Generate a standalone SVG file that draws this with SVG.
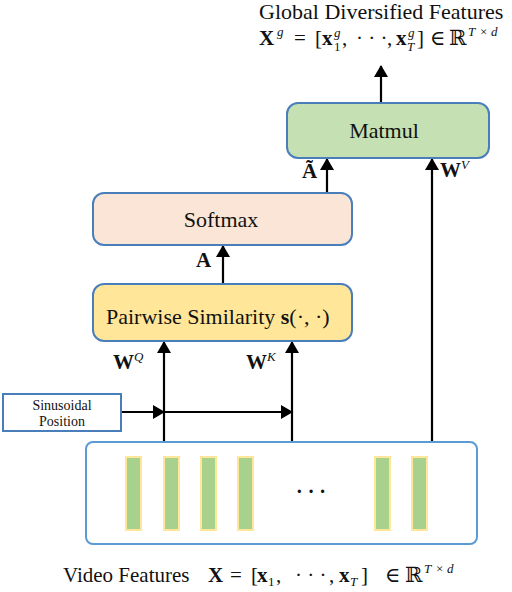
<svg xmlns="http://www.w3.org/2000/svg" width="512" height="592" viewBox="0 0 512 592">
<style>
.t{font-family:"Liberation Serif","Times New Roman",serif;fill:#111}
.m{font-family:"Liberation Serif","DejaVu Serif",serif;fill:#111;font-size:21px}
.s{font-size:13px}
.box{stroke:#4a7ebb;stroke-width:2}
.ln{stroke:#000;stroke-width:2.2;fill:none;marker-end:url(#ah)}
.bar{fill:#a9d18e;stroke:#ffe699;stroke-width:2}
.b{font-weight:bold}
.i{font-style:italic}
</style>
<defs>
<marker id="ah" viewBox="0 0 12 14" refX="11" refY="7" markerWidth="12" markerHeight="14" markerUnits="userSpaceOnUse" orient="auto">
<path d="M0,0 L12,7 L0,14 Z" fill="#000"/>
</marker>
</defs>
<g id="title">
<text class="t" x="259" y="19" font-size="22">Global Diversified Features</text>
<text class="m" y="45"><tspan class="b" x="259">X</tspan><tspan class="i s" x="277" y="36">g</tspan><tspan x="294" y="45">=</tspan><tspan x="315">[</tspan><tspan class="b" x="322">x</tspan><tspan class="i s" x="334" y="37">g</tspan></text>
<text class="m" y="45"><tspan class="s" x="334" y="51">1</tspan><tspan x="342" y="45">,</tspan><tspan x="356">· · ·</tspan><tspan x="387">,</tspan><tspan class="b" x="396">x</tspan><tspan class="i s" x="408" y="37">g</tspan></text>
<text class="m" y="45"><tspan class="i s" x="407" y="51">T</tspan><tspan x="417" y="45">]</tspan><tspan x="430">∈</tspan><tspan x="449">ℝ</tspan><tspan class="i s" x="468" y="36">T</tspan><tspan class="s" x="480">×</tspan><tspan class="i s" x="491">d</tspan></text>
</g>
<g id="connectors">
<line class="ln" x1="381" y1="102" x2="381" y2="66"/>
<line class="ln" x1="327" y1="192" x2="327" y2="159"/>
<line class="ln" x1="432" y1="442" x2="432" y2="159"/>
<line class="ln" x1="223" y1="283" x2="223" y2="246"/>
<line class="ln" x1="164" y1="442" x2="164" y2="342"/>
<line class="ln" x1="292" y1="442" x2="292" y2="342"/>
<line class="ln" x1="121" y1="412" x2="164" y2="412"/>
<line class="ln" x1="164" y1="412" x2="292" y2="412"/>
</g>
<g id="labels">
<text class="m" x="302" y="178"><tspan class="b">Ã</tspan></text>
<text class="m" x="440" y="177"><tspan class="b">W</tspan><tspan class="i s" dy="-8">V</tspan></text>
<text class="m" x="196" y="267"><tspan class="b">A</tspan></text>
<text class="m" x="113" y="369"><tspan class="b">W</tspan><tspan class="i s" dy="-8">Q</tspan></text>
<text class="m" x="246" y="369"><tspan class="b">W</tspan><tspan class="i s" dy="-8">K</tspan></text>
</g>
<g id="matmul">
<rect class="box" x="287" y="103" width="202" height="55" rx="11" fill="#c5e0b3"/>
<text class="t" x="384" y="138" font-size="22" text-anchor="middle">Matmul</text>
</g>
<g id="softmax">
<rect class="box" x="93" y="193" width="259" height="52" rx="11" fill="#fbe5d6"/>
<text class="t" x="221" y="227" font-size="22" text-anchor="middle">Softmax</text>
</g>
<g id="pairwise">
<rect class="box" x="93" y="284" width="259" height="57" rx="11" fill="#ffe699"/>
<text class="t" x="106" y="324" font-size="22">Pairwise Similarity <tspan class="b">s</tspan>(·, ·)</text>
</g>
<g id="sinusoidal">
<rect x="3" y="394" width="118" height="37" fill="#fff" stroke="#4a7ebb" stroke-width="2"/>
<text class="t" x="62" y="410" font-size="14" text-anchor="middle">Sinusoidal</text>
<text class="t" x="62" y="426" font-size="14" text-anchor="middle">Position</text>
</g>
<g id="features">
<rect x="86" y="442" width="391" height="102" rx="7" fill="#fff" stroke="#5b9bd5" stroke-width="2"/>
<rect class="bar" x="126" y="457" width="15" height="73"/>
<rect class="bar" x="164" y="457" width="15" height="73"/>
<rect class="bar" x="201" y="457" width="15" height="73"/>
<rect class="bar" x="238" y="457" width="15" height="73"/>
<rect class="bar" x="375" y="457" width="15" height="73"/>
<rect class="bar" x="412" y="457" width="15" height="73"/>
<text class="t" x="311" y="498" font-size="20" text-anchor="middle" font-weight="bold">· · ·</text>
</g>
<g id="caption">
<text class="t" x="63" y="582" font-size="21">Video Features</text>
<text class="m" y="582"><tspan class="b" x="208">X</tspan><tspan x="230">=</tspan><tspan x="251">[</tspan><tspan class="b" x="257">x</tspan><tspan class="s" x="268" y="586">1</tspan><tspan x="276" y="582">,</tspan><tspan x="295">· · ·</tspan><tspan x="329">,</tspan><tspan class="b" x="339">x</tspan><tspan class="i s" x="350" y="586">T</tspan><tspan x="361" y="582">]</tspan><tspan x="385">∈</tspan><tspan x="405">ℝ</tspan><tspan class="i s" x="424" y="573">T</tspan><tspan class="s" x="436">×</tspan><tspan class="i s" x="447">d</tspan></text>
</g>
</svg>
